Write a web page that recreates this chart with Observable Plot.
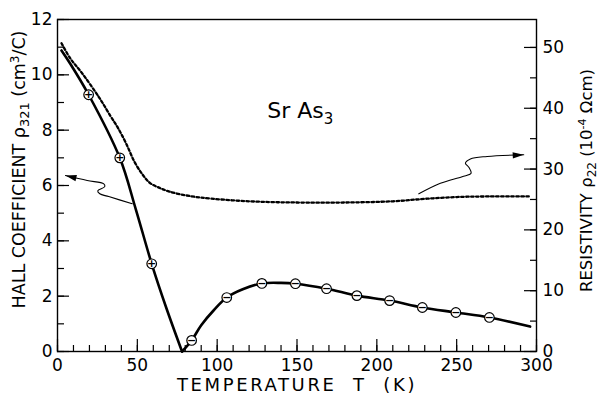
<!DOCTYPE html>
<html><head><meta charset="utf-8">
<script src="https://cdn.jsdelivr.net/npm/d3@7"></script>
<script src="https://cdn.jsdelivr.net/npm/@observablehq/plot@0.6"></script>
<style>body{margin:0;background:#fff} svg{display:block}</style>
</head><body><div id="chart"></div>
<script>
// ---- data ----
// Hall coefficient measurement points (|rho321|, cm^3/C) and carrier sign
const hallT    = [19.5, 39, 59, 84, 106, 128, 149, 168.5, 187.5, 208, 228.5, 249.5, 270.5];
const hallV    = [9.28, 7.0, 3.17, 0.40, 1.95, 2.46, 2.45, 2.27, 2.02, 1.84, 1.59, 1.41, 1.23];
const hallSign = ["+", "+", "+", "−", "−", "−", "−", "−", "−", "−", "−", "−", "−"];
// solid drawn Hall curve (two branches meeting at the sign change)
const curveT   = [2.5, 8, 19.5, 39, 49, 59, 68, 78,   78, 84, 90, 98, 106, 116, 128, 140, 149, 168.5, 187.5, 208, 228.5, 249.5, 270.5, 296];
const curveV   = [10.88, 10.4, 9.28, 7.0, 5.15, 3.17, 1.6, 0,   0, 0.40, 0.95, 1.5, 1.95, 2.25, 2.46, 2.48, 2.45, 2.27, 2.02, 1.84, 1.59, 1.41, 1.23, 0.90];
const curveSeg = [0,0,0,0,0,0,0,0, 1,1,1,1,1,1,1,1,1,1,1,1,1,1,1,1];
// resistivity rho22 (10^-4 ohm cm), dotted curve
const rhoT = [2.5, 8, 15, 26, 33, 38, 43, 48, 53, 58, 64, 70, 80, 90, 120, 150, 180, 210, 230, 250, 270, 296];
const rhoV = [50.7, 48.2, 45.9, 41.8, 38.8, 36.7, 34.2, 31.3, 29.2, 27.7, 26.9, 26.3, 25.7, 25.3, 24.7, 24.5, 24.5, 24.7, 25.1, 25.4, 25.5, 25.5];
// ticks
const xMajor = [0, 50, 100, 150, 200, 250, 300];
const xMinor = d3.range(0, 301, 10);
const yLeftMajor = [0, 2, 4, 6, 8, 10, 12];
const yLeftMinor = d3.range(0, 13, 1);
const yRightMajor = [0, 10, 20, 30, 40, 50];
const yRightMinor = d3.range(0, 55, 5);
// right axis to left axis conversion (rho units -> Hall units)
const rhoToHall = 0.2198;
// annotation arrows (in T, Hall units), tail to tip
const arrowLT = [46.8, 32.1, 26.5, 25.2, 29.6, 29.0, 18.6, 5.0];
const arrowLV = [5.34, 5.60, 5.70, 5.81, 5.96, 6.06, 6.18, 6.36];
const arrowRT = [226.3, 239.8, 253.4, 259.0, 257.6, 255.5, 258.6, 269.1, 292.0];
const arrowRV = [5.70, 6.08, 6.32, 6.44, 6.66, 6.81, 6.96, 7.05, 7.11];
const arrowDir = [-77, 87];
// labels
const titleText = "Sr As3";
const titleT = [152], titleV = [8.68];
const xLabel = "TEMPERATURE  T  (K)";
const yLabelLeft = "HALL COEFFICIENT ρ321 (cm3/C)";
const yLabelRight = "RESISTIVITY ρ22 (10-4 Ωcm)";

// ---- layout ----
const W = 604, H = 400, mL = 57, mR = 68, mT = 19, mB = 49;
const fw = W - mL - mR, fh = H - mT - mB;
const FONT = "DejaVu Sans";

const hall = hallT.map((t, i) => ({t, v: hallV[i], s: hallSign[i]}));
const curve = curveT.map((t, i) => ({t, v: curveV[i], z: curveSeg[i]}));
const rho = rhoT.map((t, i) => ({t, v: rhoV[i] * rhoToHall}));
const arrL = arrowLT.map((t, i) => ({t, v: arrowLV[i]}));
const arrR = arrowRT.map((t, i) => ({t, v: arrowRV[i]}));
const tips = [
  {t: arrowLT[arrowLT.length - 1], v: arrowLV[arrowLV.length - 1], r: arrowDir[0]},
  {t: arrowRT[arrowRT.length - 1], v: arrowRV[arrowRV.length - 1], r: arrowDir[1]}
];

const chart = Plot.plot({
  width: W, height: H,
  marginLeft: mL, marginRight: mR, marginTop: mT, marginBottom: mB,
  style: {fontFamily: FONT, fontSize: "16px", color: "black", background: "white"},
  x: {domain: [0, 300], axis: null},
  y: {domain: [0, 12], axis: null},
  marks: [
    Plot.frame({stroke: "black", strokeWidth: 1.4}),
    Plot.tickX(xMinor, {insetTop: fh - 6, stroke: "black", strokeWidth: 1.2}),
    Plot.tickX(xMajor, {insetTop: fh - 12, stroke: "black", strokeWidth: 1.2}),
    Plot.tickY(yLeftMinor, {insetRight: fw - 7, stroke: "black", strokeWidth: 1.2}),
    Plot.tickY(yLeftMajor, {insetRight: fw - 12, stroke: "black", strokeWidth: 1.2}),
    Plot.tickY(yRightMinor.map(d => d * rhoToHall), {insetLeft: fw - 6, stroke: "black", strokeWidth: 1.2}),
    Plot.tickY(yRightMajor.map(d => d * rhoToHall), {insetLeft: fw - 12, stroke: "black", strokeWidth: 1.2}),
    Plot.axisX(xMajor, {tickSize: 0, tickPadding: 7, label: null, fontSize: 17, fontFamily: FONT}),
    Plot.axisY(yLeftMajor, {anchor: "left", tickSize: 0, tickPadding: 5, label: null, fontSize: 17, fontFamily: FONT}),
    Plot.axisY(yRightMajor.map(d => d * rhoToHall), {anchor: "right", tickSize: 0, tickPadding: 6, label: null, fontSize: 17, fontFamily: FONT, tickFormat: d => String(Math.round(d / rhoToHall))}),
    Plot.line(rho, {x: "t", y: "v", curve: "catmull-rom", stroke: "black", strokeWidth: 2.3, strokeDasharray: "2.6,2.4"}),
    Plot.line(curve, {x: "t", y: "v", z: "z", curve: "catmull-rom", stroke: "black", strokeWidth: 2.6}),
    Plot.dot(hall, {x: "t", y: "v", r: 4.8, fill: "white", stroke: "black", strokeWidth: 1.2}),
    Plot.text(hall, {x: "t", y: "v", text: "s", fontSize: 11, fontWeight: "bold", fontFamily: FONT, fill: "black"}),
    Plot.line(arrL, {x: "t", y: "v", curve: "catmull-rom", stroke: "black", strokeWidth: 1.1}),
    Plot.line(arrR, {x: "t", y: "v", curve: "catmull-rom", stroke: "black", strokeWidth: 1.1}),
    Plot.vector(tips, {x: "t", y: "v", rotate: "r", length: 11, r: 3.2, shape: "spike", anchor: "end", fill: "black", stroke: "none"}),
    Plot.text([titleText], {x: titleT, y: titleV, text: d => d, fontSize: 22, fontFamily: FONT, fill: "black"}),
    Plot.text([xLabel], {frameAnchor: "bottom", dy: 39, textAnchor: "middle", text: d => d, fontSize: 18, fontFamily: FONT, fill: "black"}),
    Plot.text([yLabelLeft], {frameAnchor: "left", textAnchor: "middle", dx: -38, dy: -16, rotate: -90, text: d => d, fontSize: 17.5, fontFamily: FONT, fill: "black"}),
    Plot.text([yLabelRight], {frameAnchor: "right", textAnchor: "middle", dx: 50.5, dy: -5, rotate: -90, text: d => d, fontSize: 16.5, fontFamily: FONT, fill: "black"})
  ]
});

// typographic sub/superscripts and spacing for the labels
chart.querySelectorAll("text").forEach(el => {
  const s = el.textContent;
  if (s === titleText) {
    el.innerHTML = 'Sr As<tspan dy="6" font-size="15">3</tspan>';
  } else if (s === yLabelLeft) {
    el.innerHTML = 'HALL COEFFICIENT ρ<tspan dy="4" font-size="13">321</tspan><tspan dy="-4"> (cm</tspan><tspan dy="-6" font-size="12">3</tspan><tspan dy="6">/C)</tspan>';
  } else if (s === yLabelRight) {
    el.innerHTML = 'RESISTIVITY ρ<tspan dy="4" font-size="12">22</tspan><tspan dy="-4"> (10</tspan><tspan dy="-6" font-size="11">-4</tspan><tspan dy="6"> Ωcm)</tspan>';
  } else if (s === xLabel) {
    el.setAttribute("letter-spacing", "2.6");
    el.style.whiteSpace = "pre";
  }
});

document.getElementById("chart").appendChild(chart);
</script>
</body></html>
